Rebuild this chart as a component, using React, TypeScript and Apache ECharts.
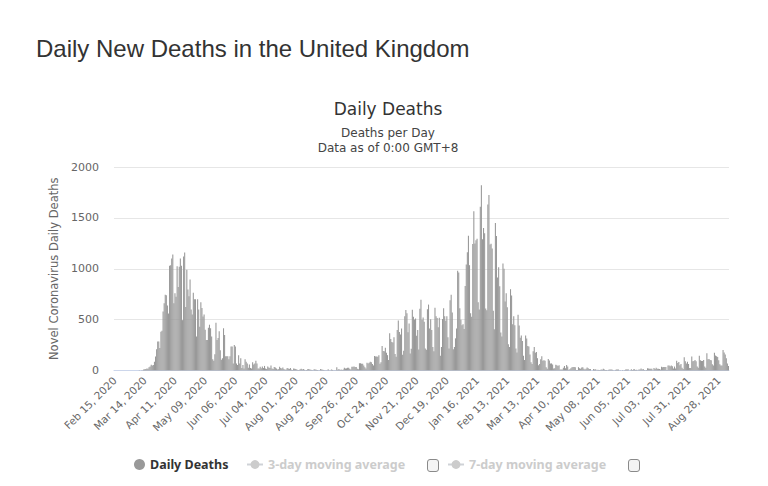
import React, { useEffect, useRef } from "react";
import * as echarts from "echarts";

// ---- Data (daily deaths, Feb 15 2020 .. Sep 6 2021) ----
const feb2020 = [0, 0, 0, 0, 0, 0, 0, 0, 0, 0, 0, 0, 0, 0, 0];
const mar2020 = [0, 0, 0, 0, 1, 1, 0, 1, 2, 1, 2, 2, 10, 12, 14, 20, 16, 33, 40, 56, 48, 54, 87, 137, 210, 285, 285, 220, 380, 390, 580];
const apr2020 = [660, 745, 740, 640, 560, 1030, 1035, 1100, 1140, 660, 760, 725, 1025, 820, 1020, 1100, 1030, 495, 1120, 1160, 625, 990, 795, 730, 895, 600, 550, 765, 700, 700];
const may2020 = [335, 700, 600, 430, 670, 615, 530, 550, 400, 300, 300, 420, 450, 415, 335, 110, 95, 160, 470, 300, 320, 385, 200, 105, 120, 415, 350, 140, 140, 140, 110];
const jun2020 = [140, 235, 235, 70, 250, 235, 70, 55, 150, 70, 120, 25, 55, 20, 110, 85, 70, 28, 60, 25, 20, 80, 60, 70, 95, 70, 20, 20, 38, 22];
const jul2020 = [40, 25, 45, 20, 15, 40, 30, 25, 48, 20, 15, 35, 30, 20, 10, 12, 38, 25, 20, 30, 15, 8, 10, 25, 20, 15, 25, 8, 6, 20, 18];
const aug2020 = [15, 10, 6, 4, 12, 18, 10, 15, 8, 3, 5, 12, 15, 10, 8, 5, 3, 12, 10, 8, 6, 2, 2, 15, 10, 8, 6, 3, 2, 2, 12];
const sep2020 = [3, 3, 10, 6, 2, 2, 3, 32, 8, 14, 6, 9, 5, 9, 27, 20, 21, 27, 27, 18, 11, 37, 37, 40, 34, 34, 17, 13, 71, 71];
const oct2020 = [66, 66, 49, 33, 19, 76, 70, 77, 87, 81, 65, 50, 143, 137, 138, 136, 150, 67, 80, 241, 191, 189, 224, 174, 151, 102, 367, 310, 280, 274, 326];
const nov2020 = [162, 136, 397, 492, 378, 355, 413, 156, 194, 532, 595, 563, 376, 462, 168, 213, 598, 529, 501, 511, 341, 398, 206, 608, 696, 498, 521, 479, 215, 205];
const dec2020 = [603, 648, 414, 504, 397, 231, 189, 616, 533, 516, 424, 519, 144, 232, 506, 612, 532, 489, 534, 326, 215, 691, 744, 570, 210, 230, 316, 414, 981, 964, 613];
const jan2021 = [500, 445, 454, 407, 830, 1041, 1162, 1325, 1035, 563, 529, 1243, 1564, 1248, 1280, 1295, 671, 599, 1610, 1820, 1290, 1401, 1348, 610, 592, 1631, 1725, 1239, 1245, 1200, 587];
const feb2021 = [406, 1449, 1322, 915, 1014, 828, 373, 333, 1052, 1001, 678, 758, 621, 258, 230, 799, 738, 454, 533, 445, 215, 178, 548, 442, 323, 345, 290, 144];
const mar2021 = [104, 343, 315, 242, 236, 158, 82, 65, 190, 231, 175, 181, 121, 52, 64, 110, 141, 95, 101, 96, 33, 17, 112, 98, 70, 70, 58, 19, 23, 56, 52];
const apr2021 = [43, 51, 10, 10, 9, 26, 45, 23, 53, 40, 7, 13, 23, 33, 35, 34, 32, 4, 4, 33, 22, 18, 29, 32, 17, 11, 17, 29, 22, 15];
const may2021 = [14, 1, 1, 14, 11, 13, 3, 8, 5, 4, 11, 8, 17, 11, 5, 6, 2, 7, 9, 9, 10, 4, 0, 5, 10, 9, 10, 2, 2, 1, 6];
const jun2021 = [1, 4, 12, 10, 12, 1, 3, 13, 6, 11, 12, 5, 8, 3, 9, 10, 19, 11, 14, 5, 3, 4, 21, 19, 16, 18, 18, 3, 24, 14];
const jul2021 = [27, 18, 18, 15, 9, 37, 33, 35, 34, 34, 6, 50, 49, 42, 49, 41, 19, 39, 19, 96, 73, 84, 51, 64, 28, 14, 131, 91, 68, 85, 65];
const aug2021 = [24, 24, 138, 92, 94, 103, 92, 39, 26, 146, 100, 94, 93, 103, 39, 26, 170, 111, 114, 104, 100, 61, 49, 174, 147, 140, 133, 100, 61, 48, 50];
const sep2021 = [201, 178, 158, 121, 68, 45];

const dailyDeaths: number[] = [
  ...feb2020, ...mar2020, ...apr2020, ...may2020, ...jun2020, ...jul2020,
  ...aug2020, ...sep2020, ...oct2020, ...nov2020, ...dec2020, ...jan2021,
  ...feb2021, ...mar2021, ...apr2021, ...may2021, ...jun2021, ...jul2021,
  ...aug2021, ...sep2021,
];

const firstDay = Date.UTC(2020, 1, 15);
const monthNames = ["Jan", "Feb", "Mar", "Apr", "May", "Jun", "Jul", "Aug", "Sep", "Oct", "Nov", "Dec"];
const categories: string[] = dailyDeaths.map((_, i) => {
  const d = new Date(firstDay + i * 86400000);
  const dd = String(d.getUTCDate()).padStart(2, "0");
  return `${monthNames[d.getUTCMonth()]} ${dd}, ${d.getUTCFullYear()}`;
});

const yTicks = [0, 500, 1000, 1500, 2000];
const seriesNames = ["Daily Deaths", "3-day moving average", "7-day moving average"];

const FONT = "DejaVu Sans, Verdana, sans-serif";
const LEGEND_FONT = "Noto Sans, sans-serif";

export default function App() {
  const ref = useRef<HTMLDivElement>(null);
  useEffect(() => {
    const chart = echarts.init(ref.current!, null, { renderer: "svg" });
    const legendText = { color: "#333333", fontWeight: "bold", fontSize: 12.5, fontFamily: LEGEND_FONT };
    const hidden = { [seriesNames[1]]: false, [seriesNames[2]]: false };
    chart.setOption({
      animation: false,
      backgroundColor: "#ffffff",
      grid: { left: 114, right: 39, top: 167, bottom: 115.5, containLabel: false },
      xAxis: {
        type: "category",
        data: categories,
        boundaryGap: true,
        axisLine: { lineStyle: { color: "#ccd6eb", width: 1 } },
        axisTick: { show: false },
        axisLabel: {
          interval: 27,
          rotate: 45,
          margin: 8,
          color: "#666666",
          fontSize: 10.5,
          fontFamily: FONT,
        },
        splitLine: { show: false },
      },
      yAxis: {
        type: "value",
        min: yTicks[0],
        max: yTicks[yTicks.length - 1],
        interval: 500,
        name: "Novel Coronavirus Daily Deaths",
        nameLocation: "middle",
        nameGap: 47,
        nameTextStyle: { color: "#666666", fontSize: 11.5, fontFamily: FONT },
        axisLine: { show: false },
        axisTick: { show: false },
        axisLabel: {
          color: "#666666",
          fontSize: 11,
          fontFamily: FONT,
          margin: 15,
          formatter: (v: number) => String(v),
        },
        splitLine: { lineStyle: { color: "#e6e6e6", width: 1 } },
      },
      legend: [
        {
          data: [{ name: seriesNames[0], icon: "circle" }],
          left: 134,
          top: 458,
          padding: 0,
          itemWidth: 11,
          itemHeight: 11,
          textStyle: legendText,
        },
        {
          data: [seriesNames[1]],
          left: 246,
          top: 458,
          padding: 0,
          itemWidth: 16,
          itemHeight: 11,
          inactiveColor: "#cccccc",
          selected: hidden,
          textStyle: legendText,
        },
        {
          data: [seriesNames[2]],
          left: 447,
          top: 458,
          padding: 0,
          itemWidth: 16,
          itemHeight: 11,
          inactiveColor: "#cccccc",
          selected: hidden,
          textStyle: legendText,
        },
      ],
      graphic: [
        {
          type: "text",
          x: 36,
          y: 48,
          style: {
            text: "Daily New Deaths in the United Kingdom",
            fill: "#333333",
            font: "24px 'Liberation Sans', Arial, sans-serif",
            align: "left",
            verticalAlign: "middle",
          },
        },
        {
          type: "text",
          x: 388,
          y: 109,
          style: {
            text: "Daily Deaths",
            fill: "#333333",
            font: "17px 'DejaVu Sans', Verdana, sans-serif",
            align: "center",
            verticalAlign: "middle",
          },
        },
        {
          type: "text",
          x: 388,
          y: 132.5,
          style: {
            text: "Deaths per Day",
            fill: "#444444",
            font: "12px 'DejaVu Sans', Verdana, sans-serif",
            align: "center",
            verticalAlign: "middle",
          },
        },
        {
          type: "text",
          x: 388,
          y: 148,
          style: {
            text: "Data as of 0:00 GMT+8",
            fill: "#444444",
            font: "12px 'DejaVu Sans', Verdana, sans-serif",
            align: "center",
            verticalAlign: "middle",
          },
        },
        {
          type: "rect",
          shape: { x: 427.5, y: 459.5, width: 11, height: 12, r: 2.5 },
          style: { fill: "#f4f4f4", stroke: "#8a8a8a", lineWidth: 1 },
        },
        {
          type: "rect",
          shape: { x: 628.5, y: 459.5, width: 11, height: 12, r: 2.5 },
          style: { fill: "#f4f4f4", stroke: "#8a8a8a", lineWidth: 1 },
        },
      ],
      series: [
        {
          name: seriesNames[0],
          type: "bar",
          data: dailyDeaths,
          barCategoryGap: "0%",
          itemStyle: { color: "#999999" },
        },
        {
          name: seriesNames[1],
          type: "line",
          data: [],
          symbol: "circle",
          itemStyle: { color: "#cccccc" },
        },
        {
          name: seriesNames[2],
          type: "line",
          data: [],
          symbol: "circle",
          itemStyle: { color: "#cccccc" },
        },
      ],
    });
    return () => chart.dispose();
  }, []);
  return (
    <div
      ref={ref}
      style={{ position: "absolute", left: 0, top: 0, width: 768, height: 486, background: "#ffffff" }}
    />
  );
}
